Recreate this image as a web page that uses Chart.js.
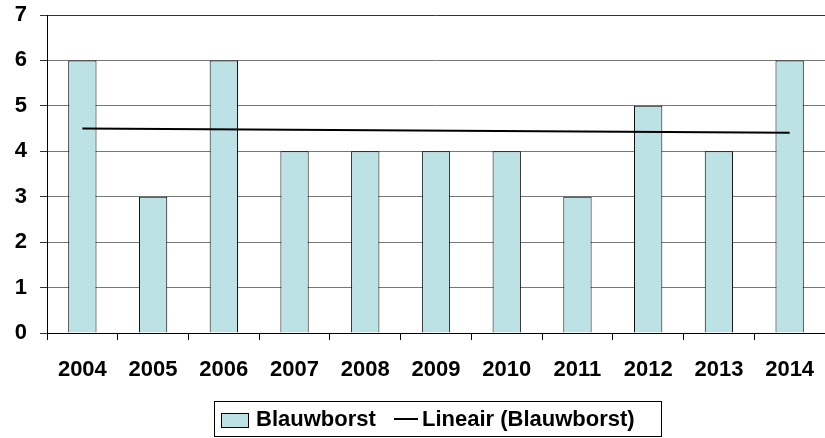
<!DOCTYPE html>
<html>
<head>
<meta charset="utf-8">
<script src="https://cdn.jsdelivr.net/npm/chart.js@4"></script>
<style>
  body { margin: 0; background: #fff; }
  #wrap { width: 825px; height: 438px; }
</style>
</head>
<body>
<div id="wrap"><canvas id="myChart" width="825" height="438"></canvas></div>
<script>
const years = ['2004', '2005', '2006', '2007', '2008', '2009', '2010', '2011', '2012', '2013', '2014'];
const blauwborst = [6, 3, 6, 4, 4, 4, 4, 3, 5, 4, 6];
// trend line read at its two ends (2004 and 2014)
const trend = [4.5, null, null, null, null, null, null, null, null, null, 4.41];
const yTicks = [0, 1, 2, 3, 4, 5, 6, 7];

const barFill = '#BCE2E5';
const font = { family: 'Arial, "Liberation Sans", sans-serif', size: 22, weight: 'bold' };

// draws the boxed legend under the chart
const boxLegend = {
    id: 'boxLegend',
    afterDraw(chart) {
        const c = chart.ctx;
        c.save();
        c.strokeStyle = '#000';
        c.lineWidth = 1;
        c.strokeRect(214.5, 401.5, 447, 35);
        c.fillStyle = barFill;
        c.fillRect(221.5, 413.5, 27, 14);
        c.strokeRect(221.5, 413.5, 27, 14);
        c.lineWidth = 2;
        c.beginPath();
        c.moveTo(394, 419);
        c.lineTo(418, 419);
        c.stroke();
        c.fillStyle = '#000';
        c.font = 'bold 22px Arial, "Liberation Sans", sans-serif';
        c.textBaseline = 'middle';
        c.fillText('Blauwborst', 256, 420);
        c.fillText('Lineair (Blauwborst)', 422, 420);
        c.restore();
    }
};

const ctx = document.getElementById('myChart').getContext('2d');
const myChart = new Chart(ctx, {
    type: 'bar',
    data: {
        labels: years,
        datasets: [{
            type: 'line',
            label: 'Lineair (Blauwborst)',
            data: trend,
            spanGaps: true,
            borderColor: '#000',
            borderWidth: 2,
            pointRadius: 0,
            fill: false,
            order: 0
        }, {
            label: 'Blauwborst',
            data: blauwborst,
            backgroundColor: barFill,
            borderColor: '#000',
            borderWidth: 1,
            categoryPercentage: 0.4,
            barPercentage: 1,
            order: 1
        }]
    },
    options: {
        responsive: false,
        animation: false,
        layout: { padding: { top: 15, right: -3, left: 0, bottom: 50 } },
        plugins: {
            legend: { display: false },
            tooltip: { enabled: false }
        },
        scales: {
            x: {
                afterFit: (s) => {
                    s.height = 55;
                    s.paddingLeft = 0;
                    s.paddingRight = 0;
                },
                grid: {
                    offset: true,
                    drawOnChartArea: false,
                    color: '#000',
                    tickLength: 7
                },
                border: { color: '#000', width: 1 },
                ticks: { color: '#000', font: font, padding: 17 }
            },
            y: {
                min: 0,
                max: 7,
                afterFit: (s) => {
                    s.width = 47;
                    s.paddingTop = 0;
                    s.paddingBottom = 0;
                },
                afterBuildTicks: (s) => { s.ticks = yTicks.map(v => ({ value: v })); },
                grid: {
                    color: (c) => c.tick && c.tick.value === 7 ? '#333' : '#777',
                    tickColor: '#333',
                    tickLength: 7
                },
                border: { color: '#000', width: 1 },
                ticks: { color: '#000', font: font, padding: 13 }
            }
        }
    },
    plugins: [boxLegend]
});
</script>
</body>
</html>
